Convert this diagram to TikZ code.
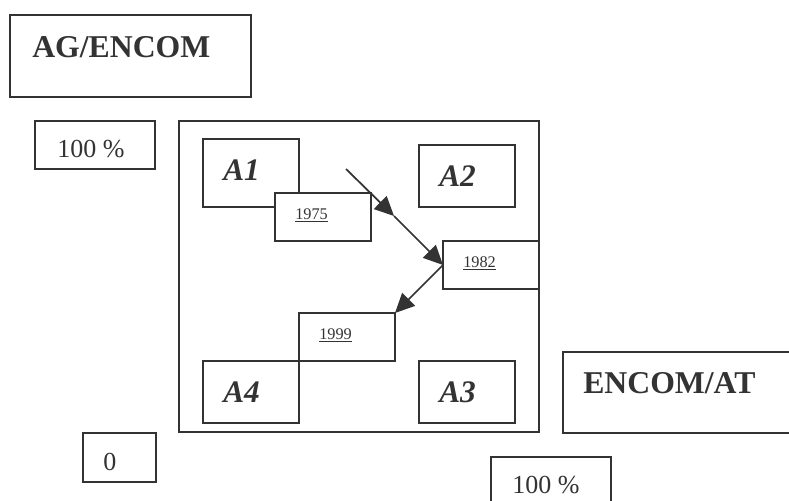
\documentclass[tikz,border=0pt]{standalone}
\usepackage{fontspec}
\setmainfont{Liberation Serif}
\usetikzlibrary{arrows.meta}
\definecolor{ink}{HTML}{333333}
\begin{document}
\begin{tikzpicture}[x=0.75pt,y=-0.75pt,
  box/.style={draw=ink,line width=1.3pt,fill=white,rectangle,inner sep=0pt,outer sep=0pt,anchor=north west},
  sz/.style 2 args={minimum width=#1*0.75pt,minimum height=#2*0.75pt},
  txt/.style={inner sep=0pt,anchor=base west,text=ink},
  big/.style={txt,font=\fontsize{23.8}{28}\selectfont\bfseries},
  mid/.style={txt,font=\fontsize{19.5}{23}\selectfont},
  area/.style={txt,font=\fontsize{23.5}{28}\selectfont\bfseries\itshape},
  yr/.style={txt,font=\fontsize{12.2}{14}\selectfont},
  arr/.style={draw=ink,line width=1.3pt,-{Triangle[length=14.5pt,width=13.5pt]}}]
\clip (0,0) rectangle (789,500);
\fill[white] (0,0) rectangle (789,500);
% top left
\node[box,sz={241}{82}] (ag) at (10,15) {};
\node[big] (tag) at (32,57) {AG/ENCOM};
\node[box,sz={120}{48}] (p1) at (35,121) {};
\node[mid] (tp1) at (57,157) {100 \%};
% frame
\node[box,sz={360}{311}] (frame) at (179,121) {};
\node[box,sz={96}{68}] (a1) at (203,139) {};
\node[area] (ta1) at (223,180) {A1};
\node[box,sz={96}{62}] (a2) at (419,145) {};
\node[area] (ta2) at (439,186) {A2};
\node[box,sz={96}{62}] (a4) at (203,361) {};
\node[area] (ta4) at (223,402) {A4};
\node[box,sz={96}{62}] (a3) at (419,361) {};
\node[area] (ta3) at (439,402) {A3};
\node[box,sz={96}{48}] (y75) at (275,193) {};
\node[yr] (ty75) at (295,219) {\underline{1975}};
\node[box,sz={96}{48}] (y82) at (443,241) {};
\node[yr] (ty82) at (463,267) {\underline{1982}};
\node[box,sz={96}{48}] (y99) at (299,313) {};
\node[yr] (ty99) at (319,339) {\underline{1999}};
% arrows
\coordinate (s) at (346,169);
\coordinate (m) at (394,216);
\draw[arr] (s) -- (m);
\draw[arr] (m) -- (y82.west);
\draw[arr] (y82.west) -- (y99.north east);
% right side
\node[box,sz={240}{81}] (at) at (563,352) {};
\node[big] (tat) at (583,393) {ENCOM/AT};
\node[box,sz={120}{60}] (p2) at (491,457) {};
\node[mid] (tp2) at (512,493) {100 \%};
\node[box,sz={73}{49}] (z) at (83,433) {};
\node[mid] (tz) at (103,470) {0};
\end{tikzpicture}
\end{document}
